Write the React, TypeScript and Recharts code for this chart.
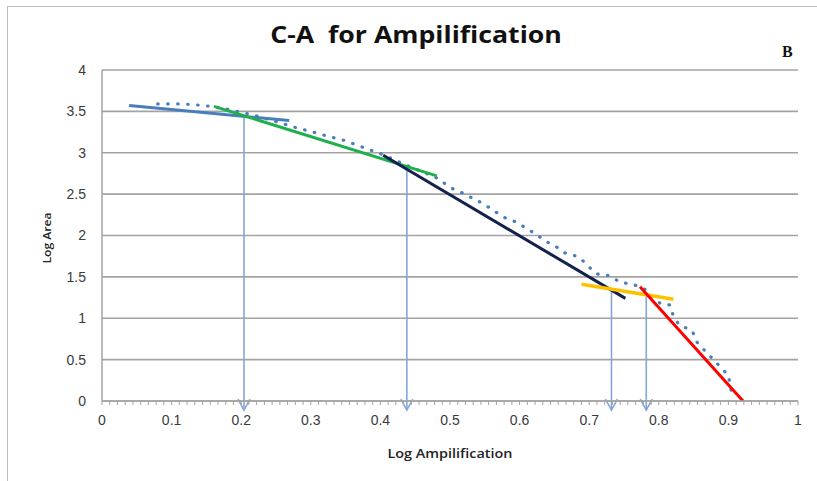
import React from 'react';
import { LineChart, Line, XAxis, YAxis, CartesianGrid, ReferenceLine } from 'recharts';

// dotted C-A curve (log amplification vs log area)
const curveX = [
  0.08, 0.117, 0.148, 0.178, 0.22, 0.257, 0.28, 0.303, 0.324, 0.344, 0.364, 0.383, 0.4, 0.44,
  0.48, 0.494, 0.507, 0.522, 0.534, 0.547, 0.559, 0.57, 0.582, 0.593, 0.605, 0.615, 0.625,
  0.635, 0.647, 0.657, 0.665, 0.675, 0.684, 0.693, 0.701, 0.71, 0.718, 0.726, 0.736, 0.743,
  0.766, 0.78, 0.802, 0.816, 0.82, 0.829, 0.848, 0.855, 0.866, 0.9, 0.906,
];
const curveY = [
  3.59, 3.59, 3.57, 3.53, 3.45, 3.36, 3.3, 3.25, 3.2, 3.16, 3.1, 3.04, 2.99, 2.84,
  2.7, 2.62, 2.55, 2.5, 2.44, 2.39, 2.32, 2.26, 2.2, 2.17, 2.11, 2.06, 2.01,
  1.94, 1.89, 1.84, 1.79, 1.77, 1.74, 1.68, 1.61, 1.54, 1.52, 1.52, 1.48, 1.44,
  1.4, 1.35, 1.18, 1.16, 1.05, 0.92, 0.85, 0.71, 0.61, 0.31, 0.02,
];

// fitted segments: [x start, x end], [y start, y end]
const blueX = [0.039, 0.269];
const blueY = [3.57, 3.39];
const greenX = [0.161, 0.481];
const greenY = [3.56, 2.72];
const navyX = [0.404, 0.752];
const navyY = [2.97, 1.24];
const orangeX = [0.689, 0.821];
const orangeY = [1.41, 1.23];
const redX = [0.773, 0.921];
const redY = [1.38, 0.0];

// threshold arrows
const arrowX = [0.204, 0.438, 0.732, 0.782];
const arrowTop = [3.44, 2.84, 1.34, 1.29];
const arrowBottom = -0.11;

const yTicks = [0, 0.5, 1, 1.5, 2, 2.5, 3, 3.5, 4];
const xMinorTicks = Array.from({ length: 91 }, (_, i) => i / 90);
const xTickLabels = ['0', '0.1', '0.2', '0.3', '0.4', '0.5', '0.6', '0.7', '0.8', '0.9', '1'];

const toPoints = (xs: number[], ys: number[]) => xs.map((x, i) => ({ x, y: ys[i] }));

const axisFont = '"Liberation Sans Narrow", "Liberation Sans", sans-serif';
const gray = '#a3a3a3';

function XTick({ x, y, index }: any) {
  if (index % 9 !== 0) return <g />;
  return (
    <text x={x} y={y} dy="0.71em" textAnchor="middle" fontSize={14} fill="#3a3a3a" fontFamily={axisFont}>
      {xTickLabels[index / 9]}
    </text>
  );
}

function Arrow({ x1, y1, x2, y2 }: any) {
  const c = '#86a6d6';
  return (
    <g>
      <line x1={x1} y1={y1} x2={x2} y2={y2} stroke={c} strokeWidth={1.6} />
      <polyline points={`${x2 - 6},${y2 - 11} ${x2},${y2} ${x2 + 6},${y2 - 11}`} fill="none" stroke={c} strokeWidth={1.6} />
    </g>
  );
}

export default function App() {
  const trends = [
    { key: 'blue', data: toPoints(blueX, blueY), color: '#4a7ebb', w: 3 },
    { key: 'green', data: toPoints(greenX, greenY), color: '#1db04b', w: 3 },
    { key: 'navy', data: toPoints(navyX, navyY), color: '#14214d', w: 3 },
    { key: 'orange', data: toPoints(orangeX, orangeY), color: '#ffc000', w: 3.5 },
    { key: 'red', data: toPoints(redX, redY), color: '#ff0000', w: 3 },
  ];

  return (
    <div style={{ position: 'absolute', left: 0, top: 0, width: 817, height: 481, background: '#fff', overflow: 'hidden' }}>
      <div
        style={{
          position: 'absolute',
          left: 7,
          top: 6,
          width: 900,
          height: 600,
          borderTop: '1.5px solid #bdbdbd',
          borderLeft: '1.5px solid #bdbdbd',
        }}
      />
      <div
        style={{
          position: 'absolute',
          left: 416,
          top: 20,
          transform: 'translateX(-50%) scaleX(1.16)',
          fontFamily: '"Open Sans", sans-serif',
          fontWeight: 700,
          fontSize: 23,
          color: '#111',
          whiteSpace: 'pre',
          lineHeight: '28px',
        }}
      >
        {'C-A  for Ampilification'}
      </div>
      <div
        style={{
          position: 'absolute',
          left: 782,
          top: 42,
          fontFamily: '"Liberation Serif", serif',
          fontWeight: 700,
          fontSize: 16,
          color: '#111',
          lineHeight: '20px',
        }}
      >
        B
      </div>
      <div
        style={{
          position: 'absolute',
          left: 46,
          top: 238,
          transform: 'translate(-50%, -50%) rotate(-90deg) scaleX(1.1)',
          fontFamily: '"Open Sans", sans-serif',
          fontWeight: 600,
          fontSize: 11,
          color: '#222',
          whiteSpace: 'nowrap',
        }}
      >
        Log Area
      </div>
      <div
        style={{
          position: 'absolute',
          left: 450,
          top: 453,
          transform: 'translate(-50%, -50%) scaleX(1.2)',
          fontFamily: '"Open Sans", sans-serif',
          fontWeight: 600,
          fontSize: 12,
          color: '#222',
          whiteSpace: 'nowrap',
        }}
      >
        Log Ampilification
      </div>

      <div style={{ position: 'absolute', left: 0, top: 0 }}>
        <LineChart width={817} height={481} margin={{ top: 70, right: 19, bottom: 50, left: 50 }}>
          <CartesianGrid vertical={false} stroke={gray} strokeWidth={1.6} />
          <XAxis
            type="number"
            dataKey="x"
            domain={[0, 1]}
            ticks={xMinorTicks}
            interval={0}
            tick={<XTick />}
            tickSize={4}
            tickMargin={10}
            height={30}
            axisLine={{ stroke: gray, strokeWidth: 1.5 }}
            tickLine={{ stroke: gray }}
            allowDataOverflow
          />
          <YAxis
            type="number"
            domain={[0, 4]}
            ticks={yTicks}
            interval={0}
            width={52}
            tickSize={0}
            tickMargin={16}
            axisLine={{ stroke: gray, strokeWidth: 1.5 }}
            tick={{ fontSize: 14, fill: '#3a3a3a', fontFamily: axisFont }}
            allowDataOverflow
          />
          {arrowX.map((ax, i) => (
            <ReferenceLine
              key={`arrow-${i}`}
              segment={[
                { x: ax, y: arrowTop[i] },
                { x: ax, y: arrowBottom },
              ]}
              ifOverflow="visible"
              shape={<Arrow />}
            />
          ))}
          <Line
            data={toPoints(curveX, curveY)}
            dataKey="y"
            type="linear"
            stroke="#4a7ebb"
            strokeWidth={3.2}
            strokeDasharray="0.5 9.5"
            strokeLinecap="round"
            dot={false}
            activeDot={false}
            isAnimationActive={false}
          />
          {trends.map((t) => (
            <Line
              key={t.key}
              data={t.data}
              dataKey="y"
              type="linear"
              stroke={t.color}
              strokeWidth={t.w}
              dot={false}
              activeDot={false}
              isAnimationActive={false}
            />
          ))}
        </LineChart>
      </div>
    </div>
  );
}
